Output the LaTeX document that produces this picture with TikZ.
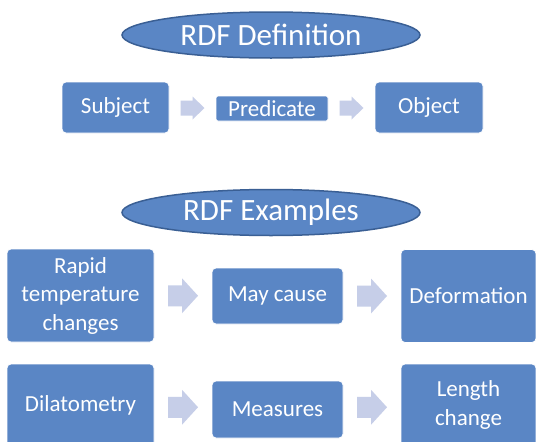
\documentclass[tikz,border=0pt]{standalone}
\usepackage{fontspec}
\setmainfont{Carlito}
\usetikzlibrary{shapes.geometric,calc}
\definecolor{boxblue}{HTML}{5A86C5}
\definecolor{ellline}{HTML}{3A5F94}
\definecolor{arrowc}{HTML}{C6CEE8}
\tikzset{
  box/.style={draw=white, line width=0.8pt, fill=boxblue, rounded corners=4pt, text=white, inner sep=0pt, align=center, font=\fontsize{23}{28.5}\selectfont},
  titleell/.style={ellipse, draw=ellline, line width=1.5pt, fill=boxblue, text=white, inner sep=0pt, font=\fontsize{31}{36}\selectfont}
}
\newcommand{\barrow}[6]{%
  \path ($(#1)!0.5!(#2)$) coordinate (m);
  \fill[arrowc] ([shift={(-#3,-#5)}]m) -- ([shift={(#3-#4,-#5)}]m) -- ([shift={(#3-#4,-#6)}]m) -- ([shift={(#3,0)}]m) -- ([shift={(#3-#4,#6)}]m) -- ([shift={(#3-#4,#5)}]m) -- ([shift={(-#3,#5)}]m) -- cycle;}
\begin{document}
\begin{tikzpicture}[x=1pt,y=-1pt]
\useasboundingbox (0,0) rectangle (536,442);
\fill[white] (0,0) rectangle (536,442);
% definition
\node[titleell, minimum width=298, minimum height=46] (def) at (271,35) {RDF Definition};
\node[box, minimum width=107, minimum height=51] (subj) at (115.5,107.5) {Subject};
\node[box, minimum width=112, minimum height=25, rounded corners=2pt] (pred) at (272,108.5) {Predicate};
\node[box, minimum width=108, minimum height=51] (obj) at (429,107.5) {Object};
\barrow{subj.east}{pred.west}{12}{12}{7.5}{11.5}
\barrow{pred.east}{obj.west}{12}{12}{7.5}{11.5}
% examples
\node[titleell, minimum width=298, minimum height=46] (ex) at (271,212.5) {RDF Examples};
\node[box, minimum width=147, minimum height=93] (rapid) at (80.5,295.5) {Rapid\\temperature\\changes};
\node[box, minimum width=131, minimum height=56] (may) at (277.5,296) {May cause};
\node[box, minimum width=135, minimum height=93] (deform) at (468.5,296) {Deformation};
\barrow{rapid.east}{may.west}{15}{16}{10.5}{17.5}
\barrow{may.east}{deform.west}{15}{16}{10.5}{17.5}
\node[box, minimum width=147, minimum height=82] (dil) at (80.5,405) {Dilatometry};
\node[box, minimum width=131, minimum height=57] (meas) at (277.5,409.5) {Measures};
\node[box, minimum width=135, minimum height=82] (len) at (468.5,405) {Length\\change};
\barrow{dil.east}{meas.west}{15}{16}{10.5}{17.5}
\barrow{meas.east}{len.west}{15}{16}{10.5}{17.5}
\end{tikzpicture}
\end{document}
